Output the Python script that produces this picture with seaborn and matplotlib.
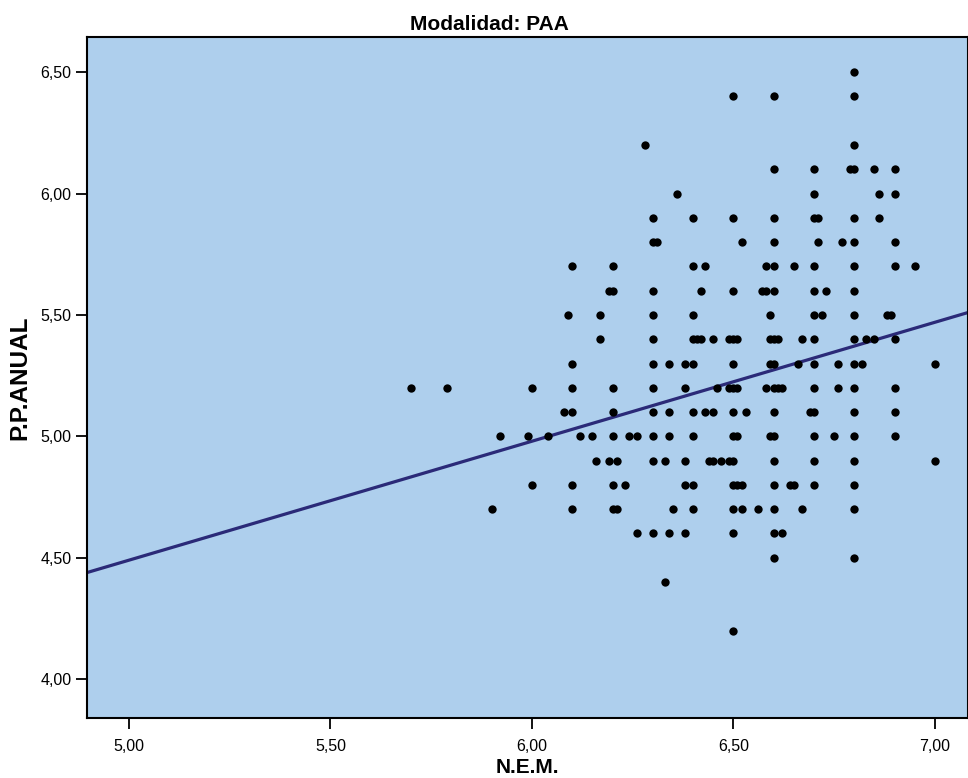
import numpy as np
import pandas as pd
import seaborn as sns
import matplotlib.pyplot as plt
from matplotlib.ticker import FuncFormatter

pp_levels = [6.5, 6.4, 6.2, 6.1, 6.0, 5.9, 5.8, 5.7, 5.6, 5.5, 5.4, 5.3,
             5.2, 5.1, 5.0, 4.9, 4.8, 4.7, 4.6, 4.5, 4.4, 4.2]

nem_650 = [6.80]
nem_640 = [6.50, 6.60, 6.80]
nem_620 = [6.28, 6.80]
nem_610 = [6.60, 6.70, 6.79, 6.80, 6.85, 6.90]
nem_600 = [6.36, 6.70, 6.86, 6.90]
nem_590 = [6.30, 6.40, 6.50, 6.60, 6.70, 6.71, 6.80, 6.86]
nem_580 = [6.30, 6.31, 6.52, 6.60, 6.71, 6.77, 6.80, 6.90]
nem_570 = [6.10, 6.20, 6.40, 6.43, 6.58, 6.60, 6.65, 6.70, 6.80, 6.90, 6.95]
nem_560 = [6.19, 6.20, 6.30, 6.42, 6.50, 6.57, 6.58, 6.60, 6.70, 6.73, 6.80]
nem_550 = [6.09, 6.17, 6.30, 6.40, 6.59, 6.70, 6.72, 6.80, 6.88, 6.89]
nem_540 = [6.17, 6.30, 6.40, 6.41, 6.42, 6.45, 6.49, 6.50, 6.51, 6.59, 6.60,
           6.61, 6.67, 6.70, 6.80, 6.83, 6.85, 6.90]
nem_530 = [6.10, 6.30, 6.34, 6.38, 6.40, 6.50, 6.59, 6.60, 6.66, 6.70, 6.76,
           6.80, 6.82, 7.00]
nem_520 = [5.70, 5.79, 6.00, 6.10, 6.20, 6.30, 6.38, 6.46, 6.49, 6.50, 6.51,
           6.58, 6.60, 6.61, 6.62, 6.70, 6.76, 6.80, 6.90]
nem_510 = [6.08, 6.10, 6.20, 6.30, 6.34, 6.40, 6.43, 6.45, 6.50, 6.53, 6.60,
           6.69, 6.70, 6.80, 6.90]
nem_500 = [5.92, 5.99, 6.04, 6.12, 6.15, 6.20, 6.24, 6.26, 6.30, 6.34, 6.40,
           6.50, 6.51, 6.59, 6.60, 6.70, 6.75, 6.80, 6.90]
nem_490 = [6.16, 6.19, 6.21, 6.30, 6.33, 6.38, 6.44, 6.45, 6.47, 6.49, 6.50,
           6.60, 6.70, 6.80, 7.00]
nem_480 = [6.00, 6.10, 6.20, 6.23, 6.38, 6.40, 6.50, 6.51, 6.52, 6.60, 6.64,
           6.65, 6.70, 6.80]
nem_470 = [5.90, 6.10, 6.20, 6.21, 6.35, 6.40, 6.50, 6.52, 6.56, 6.60, 6.67, 6.80]
nem_460 = [6.26, 6.30, 6.34, 6.38, 6.50, 6.60, 6.62]
nem_450 = [6.60, 6.80]
nem_440 = [6.33]
nem_420 = [6.50]

nem_rows = [nem_650, nem_640, nem_620, nem_610, nem_600, nem_590, nem_580,
            nem_570, nem_560, nem_550, nem_540, nem_530, nem_520, nem_510,
            nem_500, nem_490, nem_480, nem_470, nem_460, nem_450, nem_440,
            nem_420]

# linear fit line shown in the chart
fit_intercept = 2.04
fit_slope = 0.49

x_ticks = [5.0, 5.5, 6.0, 6.5, 7.0]
y_ticks = [4.0, 4.5, 5.0, 5.5, 6.0, 6.5]

nem = []
pp = []
for level, row in zip(pp_levels, nem_rows):
    nem += row
    pp += [level] * len(row)
df = pd.DataFrame({'NEM': nem, 'PP': pp})

sns.set_theme(style='ticks')
plt.rcParams['font.family'] = ['Liberation Sans', 'DejaVu Sans']
plt.rcParams['text.color'] = 'black'
plt.rcParams['axes.labelcolor'] = 'black'

fig = plt.figure(figsize=(9.68, 7.78), dpi=100)
ax = fig.add_axes([87 / 968, 1 - 718 / 778, 1 - 87 / 968, (718 - 37) / 778])
ax.set_facecolor('#aecfed')

sns.scatterplot(data=df, x='NEM', y='PP', ax=ax, color='black', s=36,
                linewidth=0, zorder=3)
ax.axline((0, fit_intercept), slope=fit_slope, color='#2b2a78', lw=2.3, zorder=2)

ax.set_xlim(4.896, 7.082)
ax.set_ylim(3.84, 6.645)
ax.set_xticks(x_ticks)
ax.set_yticks(y_ticks)
comma = FuncFormatter(lambda v, p: f'{v:.2f}'.replace('.', ','))
ax.xaxis.set_major_formatter(comma)
ax.yaxis.set_major_formatter(comma)
ax.tick_params(axis='both', direction='out', length=8, width=1.3,
               color='black', labelsize=11.5, labelcolor='black')
ax.tick_params(axis='x', pad=7)
ax.tick_params(axis='y', pad=3)

for side in ['left', 'bottom', 'top', 'right']:
    ax.spines[side].set_visible(True)
    ax.spines[side].set_color('black')
    ax.spines[side].set_linewidth(1.5)

ax.set_xlabel('N.E.M.', fontsize=15, fontweight='bold', labelpad=3)
ax.set_ylabel('P.P.ANUAL', fontsize=17.5, fontweight='bold', labelpad=7)
ax.set_title('Modalidad: PAA', fontsize=15, fontweight='bold', pad=5,
             x=(489 - 87) / 881)

fig.savefig('out.png', dpi=100)
